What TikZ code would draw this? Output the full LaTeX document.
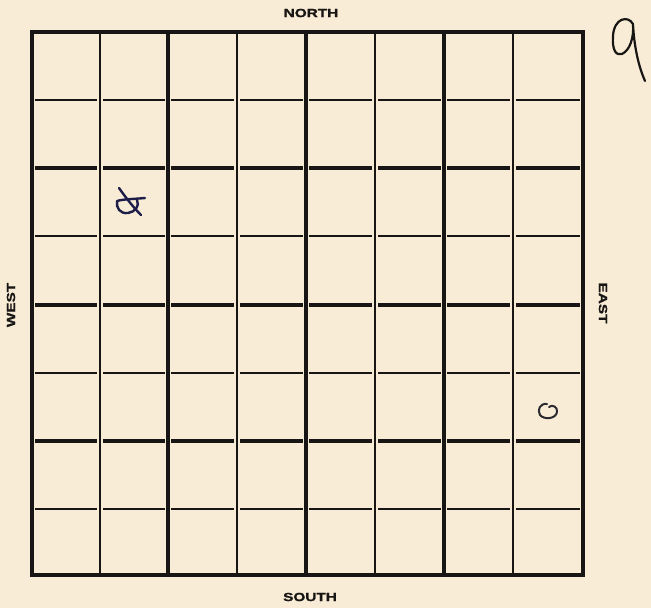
\documentclass[tikz,border=0pt]{standalone}
\usepackage{fontspec}
\newfontfamily\lblfont[FakeStretch=1.3,FakeBold=1.2]{Liberation Sans}
\definecolor{paper}{HTML}{F8ECD6}
\definecolor{ink}{HTML}{181614}
\definecolor{pen}{HTML}{1E1D4A}
\definecolor{pencil}{HTML}{2A2A30}
\begin{document}
\begin{tikzpicture}[x=1pt,y=-1pt,
  thinline/.style={draw=ink,line width=2.3pt},
  thickline/.style={draw=ink,line width=3.3pt},
  border/.style={draw=ink,line width=3.8pt},
  label/.style={font=\lblfont\bfseries\fontsize{11.8}{12}\selectfont,text=ink,inner sep=0pt},
  hand/.style={line width=2.4pt,line cap=round,line join=round}]
\fill[paper] (0,0) rectangle (651,608);
\useasboundingbox (0,0) rectangle (651,608);
% grid coordinates
\def\xs{{32,100,168,237,306,375,444,513,583}}
\def\ys{{32,100,168,236,305,373,441,509,575}}
% vertical lines
\foreach \i/\st in {1/thinline,2/thickline,3/thinline,4/thickline,5/thinline,6/thickline,7/thinline}{
  \pgfmathsetmacro{\xx}{\xs[\i]}
  \draw[\st] (\xx,32) -- (\xx,575);
}
% horizontal lines (segments with small gaps at crossings)
\foreach \j/\st in {1/thinline,2/thickline,3/thinline,4/thickline,5/thinline,6/thickline,7/thinline}{
  \pgfmathsetmacro{\yy}{\ys[\j]}
  \foreach \k in {0,...,7}{
    \pgfmathsetmacro{\xa}{\xs[\k]+3}
    \pgfmathsetmacro{\xb}{\xs[\k+1]-3}
    \draw[\st] (\xa,\yy) -- (\xb,\yy);
  }
}
% border
\draw[border] (32,32) rectangle (583,575);
% labels
\node[label] (north) at (311,13) {NORTH};
\node[label] (south) at (310,597) {SOUTH};
\node[label,rotate=90] (west) at (11,305) {WEST};
\node[label,rotate=-90] (east) at (603,303) {EAST};
% handwritten marks
\draw[hand,draw=pen] (119,188) .. controls (126,198) and (134,208) .. (141,215);
\draw[hand,draw=pen] (145,198) .. controls (135,199) and (124,199) .. (117,201)
  .. controls (116,208) and (120,214) .. (128,213)
  .. controls (135,212) and (140,206) .. (137,200);
\draw[hand,draw=pencil,line width=2pt] (547,404) .. controls (540,403) and (537,410) .. (540,415)
  .. controls (544,420) and (556,419) .. (557,412)
  .. controls (558,407) and (552,404) .. (549,407);
\draw[hand,draw=ink,line width=2.2pt] (633,24) .. controls (628,15) and (614,18) .. (613,36)
  .. controls (612,50) and (616,56) .. (622,54)
  .. controls (630,50) and (634,38) .. (633,24)
  .. controls (634,45) and (638,65) .. (645,81);
\end{tikzpicture}
\end{document}
